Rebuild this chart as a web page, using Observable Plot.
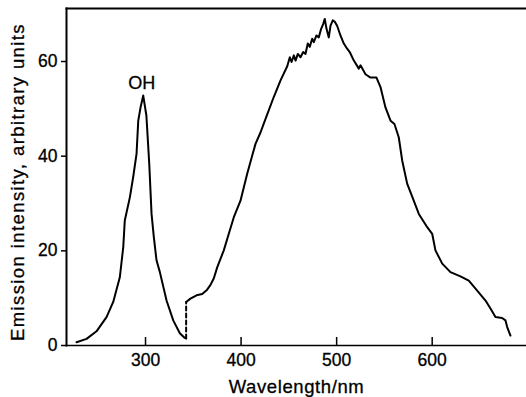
<!DOCTYPE html>
<html>
<head>
<meta charset="utf-8">
<script src="https://cdn.jsdelivr.net/npm/d3@7"></script>
<script src="https://cdn.jsdelivr.net/npm/@observablehq/plot@0.6"></script>
<style>
  html, body { margin: 0; padding: 0; background: #fff; }
  #chart svg { display: block; }
  #chart svg text { stroke: #000; stroke-width: 0.3px; }
  #chart g[aria-label="y-axis label"] { font-size: 18.5px; letter-spacing: 1.4px; translate: 0px 5px; }
  #chart g[aria-label="x-axis label"] { font-size: 18.5px; letter-spacing: 0.6px; }
</style>
</head>
<body>
<div id="chart"></div>
<script>
// Axis settings
const xDomain = [217.3, 698.7];
const yDomain = [0, 71.2];
const xTicks = [300, 400, 500, 600];
const yTicks = [0, 20, 40, 60];
const xLabel = "Wavelength/nm";
const yLabel = "Emission intensity, arbitrary units";

// OH emission band (solid)
const ohWavelength = [227.8, 238.3, 248.7, 259.2, 266.2, 273.1, 276.7, 278.3, 283.6, 287.1, 290.6, 292.4, 294.8, 297.6, 300.9, 303.9, 306.3, 308.7, 311.5, 315.0, 322.0, 329.0, 335.9, 341.1, 342.5];
const ohIntensity  = [0.7, 1.4, 3.0, 6.0, 9.2, 14.4, 20.8, 26.4, 31.3, 35.6, 40.5, 47.5, 50.3, 52.8, 48.6, 38.4, 27.8, 22.9, 18.0, 15.5, 9.5, 5.3, 2.6, 1.6, 1.5];

// Broad continuum (solid)
const bandWavelength = [342.5, 347, 353.4, 359.3, 364.5, 368, 371.5, 375, 381.9, 387, 392.4, 399.4, 406.4, 411.6, 415.1, 420.3, 425.6, 434.2, 441.3, 448.3, 451, 452.8, 455.2, 457, 459.4, 462.2, 465, 467.4, 469.8, 471.9, 474.4, 476.1, 478.9, 481.3, 483.8, 485.9, 487.6, 489.4, 491.8, 493.6, 496, 498.1, 500.6, 504, 507.5, 511, 513.7, 518, 523.2, 525, 530.2, 535.4, 541.7, 545.9, 551.1, 556.4, 560.5, 565, 568.6, 573.8, 580.7, 586, 594.8, 600, 603.4, 610.5, 619.1, 629.6, 638.3, 647.1, 655.8, 661, 666.2, 673.2, 676.7, 678.5, 681.9];
const bandIntensity  = [9.2, 9.9, 10.6, 10.9, 11.8, 12.8, 14.2, 16.5, 20.1, 23.5, 27.1, 30.6, 36.3, 40.1, 42.6, 45.0, 47.9, 52.5, 56.0, 59.0, 60.9, 59.9, 61.3, 60.2, 61.6, 60.9, 62.0, 61.6, 63.8, 63.1, 64.8, 64.1, 65.5, 65.1, 66.9, 67.9, 69.0, 66.9, 65.1, 67.6, 68.7, 68.4, 67.5, 65.5, 63.8, 62.7, 62.0, 60.2, 58.5, 59.2, 57.3, 56.6, 56.6, 54.6, 50.3, 47.5, 46.8, 44.0, 39.1, 34.2, 30.6, 27.8, 25.0, 23.6, 20.1, 17.3, 15.5, 14.6, 13.7, 11.6, 9.5, 7.8, 6.0, 5.8, 5.3, 3.9, 2.1];

// Annotation
const noteText = ["OH"];
const noteX = [296];
const noteY = [55.5];

const oh = ohWavelength.map((w, i) => ({w, v: ohIntensity[i]}));
const band = bandWavelength.map((w, i) => ({w, v: bandIntensity[i]}));
const gap = [oh[oh.length - 1], band[0]];
const notes = noteText.map((t, i) => ({t, x: noteX[i], y: noteY[i]}));

const chart = Plot.plot({
  width: 526,
  height: 397,
  marginLeft: 66,
  marginRight: 0,
  marginTop: 8,
  marginBottom: 52,
  x: {domain: xDomain},
  y: {domain: yDomain},
  style: {fontFamily: "'Liberation Sans', Arial, sans-serif", fontSize: "17.5px", color: "#000", background: "#fff"},
  marks: [
    Plot.frame({anchor: "top", stroke: "#000", strokeWidth: 2}),
    Plot.frame({anchor: "left", stroke: "#000", strokeWidth: 2}),
    Plot.frame({anchor: "bottom", stroke: "#000", strokeWidth: 1.5}),
    Plot.axisY(yTicks, {tickSize: 5, tickPadding: 4, strokeWidth: 1.5, fontSize: 17.5, label: yLabel, labelAnchor: "center", labelArrow: "none", labelOffset: 56}),
    Plot.axisX(xTicks, {tickSize: -8, tickPadding: 16, strokeWidth: 1.5, fontSize: 17.5, label: xLabel, labelAnchor: "center", labelArrow: "none", labelOffset: 47}),
    Plot.line(oh, {x: "w", y: "v", stroke: "#000", strokeWidth: 2, curve: "linear"}),
    Plot.line(gap, {x: "w", y: "v", stroke: "#000", strokeWidth: 2, strokeDasharray: "4,3"}),
    Plot.line(band, {x: "w", y: "v", stroke: "#000", strokeWidth: 2, curve: "linear"}),
    Plot.text(notes, {x: "x", y: "y", text: "t", fontSize: 18, fill: "#000"})
  ]
});
document.getElementById("chart").appendChild(chart);
</script>
</body>
</html>
